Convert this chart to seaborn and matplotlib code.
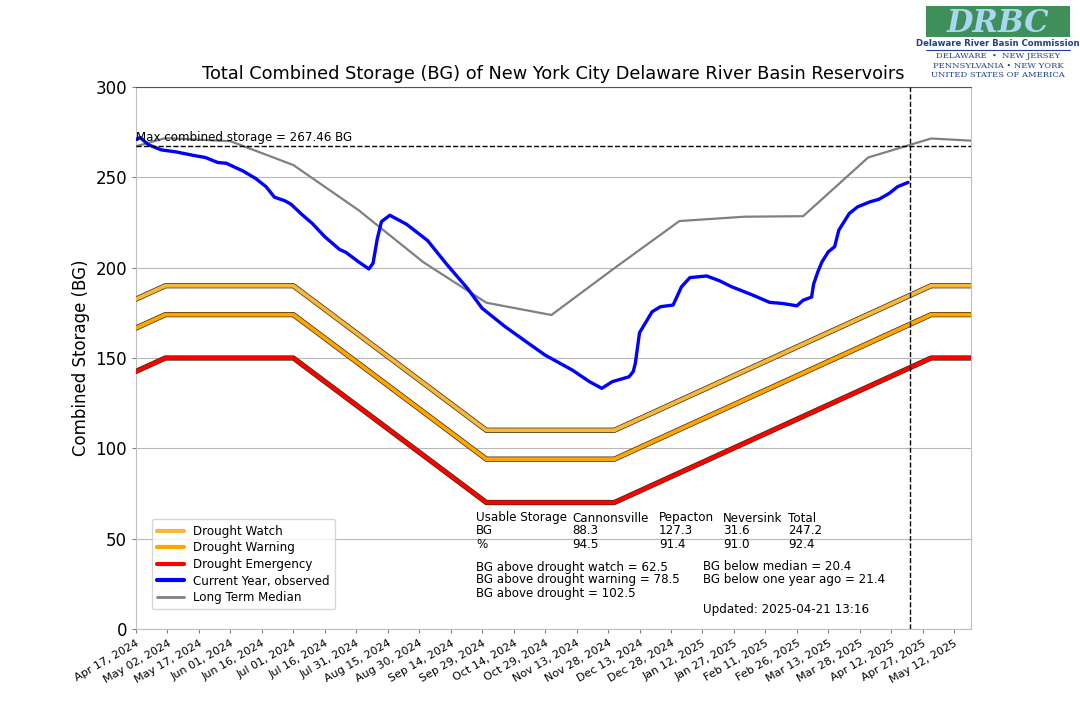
import pandas as pd
import matplotlib
matplotlib.use('Agg')
import matplotlib.pyplot as plt
import matplotlib.dates as mdates
import matplotlib.patheffects as pe
from matplotlib.lines import Line2D
from matplotlib.ticker import FixedLocator
import seaborn as sns

# Drought rule curves (BG)
rule_dates = ['2024-04-17', '2024-05-01', '2024-07-01', '2024-10-01',
              '2024-12-01', '2025-05-01', '2025-05-20']
watch = [182.6, 190, 190, 110, 110, 190, 190]
warning = [166.6, 174, 174, 94, 94, 174, 174]
emergency = [142.6, 150, 150, 70, 70, 150, 150]

# Long term median (BG)
median_dates = ['2024-04-01', '2024-05-01', '2024-06-01', '2024-07-01', '2024-08-01',
                '2024-09-01', '2024-10-01', '2024-11-01', '2024-12-01', '2025-01-01',
                '2025-02-01', '2025-03-01', '2025-04-01', '2025-05-01', '2025-05-20']
median = [262.0, 271.7, 270.0, 256.8, 231.9, 203.0, 180.6, 173.8, 199.7, 225.8,
          228.2, 228.5, 261.0, 271.5, 270.3]

# Current year, observed (BG)
obs_dates = ['2024-04-17', '2024-04-19', '2024-04-23', '2024-04-29', '2024-05-06',
             '2024-05-15', '2024-05-20', '2024-05-26', '2024-05-30', '2024-06-07',
             '2024-06-13', '2024-06-18', '2024-06-22', '2024-06-27', '2024-06-30',
             '2024-07-05', '2024-07-10', '2024-07-16', '2024-07-23', '2024-07-26',
             '2024-08-01', '2024-08-06', '2024-08-08', '2024-08-10', '2024-08-12',
             '2024-08-16', '2024-08-24', '2024-09-03', '2024-09-12', '2024-09-22',
             '2024-09-29', '2024-10-10', '2024-10-20', '2024-10-29', '2024-11-11',
             '2024-11-19', '2024-11-25', '2024-11-30', '2024-12-08', '2024-12-10',
             '2024-12-11', '2024-12-13', '2024-12-19', '2024-12-23', '2024-12-29',
             '2025-01-02', '2025-01-06', '2025-01-14', '2025-01-20', '2025-01-26',
             '2025-02-05', '2025-02-13', '2025-02-19', '2025-02-26', '2025-03-01',
             '2025-03-05', '2025-03-06', '2025-03-08', '2025-03-10', '2025-03-13',
             '2025-03-16', '2025-03-18', '2025-03-23', '2025-03-27', '2025-04-02',
             '2025-04-06', '2025-04-11', '2025-04-15', '2025-04-20']
observed = [271.0, 272.0, 268.0, 265.2, 264.1,
            262.0, 261.0, 258.2, 257.8, 253.5,
            249.4, 244.8, 239.0, 237.0, 235.0,
            229.5, 224.5, 217.1, 210.1, 208.5,
            203.3, 199.3, 202.5, 216.0, 225.5,
            229.0, 224.0, 215.0, 202.0, 188.5,
            177.5, 167.3, 159.0, 151.6, 143.3,
            137.0, 133.2, 136.9, 139.6, 142.5,
            147.0, 164.0, 175.6, 178.4, 179.3,
            189.4, 194.5, 195.4, 192.8, 189.4,
            184.8, 180.8, 180.2, 178.9, 182.0,
            183.7, 191.0, 197.7, 203.3, 208.8,
            211.6, 220.8, 230.0, 233.7, 236.5,
            237.8, 241.1, 244.8, 247.2]

max_storage = 267.46
today = '2025-04-21'
tick_dates = pd.date_range('2024-04-17', '2025-05-12', freq='15D')

table_header = ['Usable Storage', 'Cannonsville', 'Pepacton', 'Neversink', 'Total']
table_bg = ['BG', '88.3', '127.3', '31.6', '247.2']
table_pct = ['%', '94.5', '91.4', '91.0', '92.4']
left_notes = ['BG above drought watch = 62.5', 'BG above drought warning = 78.5',
              'BG above drought = 102.5']
right_notes = ['BG below median = 20.4', 'BG below one year ago = 21.4']
updated = 'Updated: 2025-04-21 13:16'

c_watch = '#F6B73C'
c_warning = '#FFA500'
c_emerg = '#FF0000'

sns.set_style('whitegrid', {'grid.color': '#b8b8b8', 'axes.edgecolor': '#c0c0c0',
                            'xtick.bottom': True, 'ytick.left': True,
                            'xtick.color': '#808080', 'ytick.color': '#808080',
                            'text.color': 'black', 'axes.labelcolor': 'black'})
plt.rcParams['font.family'] = ['DejaVu Sans']

rules = pd.DataFrame({'date': pd.to_datetime(rule_dates), 'watch': watch,
                      'warning': warning, 'emergency': emergency})
med = pd.DataFrame({'date': pd.to_datetime(median_dates), 'value': median})
obs = pd.DataFrame({'date': pd.to_datetime(obs_dates), 'value': observed})

fig = plt.figure(figsize=(10.8, 7.2), dpi=100)
ax = fig.add_axes([136 / 1080, 91 / 720, 835 / 1080, 542 / 720])

# Drought levels get a thin dark outline
edge = [pe.Stroke(linewidth=3.8, foreground='#3a2a10'), pe.Normal()]
for col, c in [('watch', c_watch), ('warning', c_warning), ('emergency', c_emerg)]:
    sns.lineplot(data=rules, x='date', y=col, color=c, linewidth=2.8, ax=ax,
                 path_effects=edge, zorder=3)
sns.lineplot(data=med, x='date', y='value', color='gray', linewidth=1.6, ax=ax, zorder=4)
sns.lineplot(data=obs, x='date', y='value', color='blue', linewidth=2.4, ax=ax, zorder=5)

ax.axhline(max_storage, color='black', linestyle='--', linewidth=1.0, zorder=6)
ax.axvline(pd.Timestamp(today), color='black', linestyle='--', linewidth=1.0, zorder=6)
ax.text(pd.Timestamp('2024-04-17'), max_storage + 1.2, 'Max combined storage = 267.46 BG',
        fontsize=8.6, ha='left', va='bottom', color='black', zorder=7)

ax.set_xlim(pd.Timestamp('2024-04-17'), pd.Timestamp('2025-05-20'))
ax.set_ylim(0, 300)
ax.xaxis.set_major_locator(FixedLocator(mdates.date2num(tick_dates)))
ax.xaxis.set_major_formatter(mdates.DateFormatter('%b %d, %Y'))
ax.grid(axis='x', visible=False)
ax.tick_params(axis='x', labelsize=8, length=3, labelcolor='black', rotation=30)
ax.tick_params(axis='y', labelsize=12, length=3, labelcolor='black')
for lbl in ax.get_xticklabels():
    lbl.set_ha('right')
    lbl.set_rotation_mode('anchor')
ax.set_xlabel('')
ax.set_ylabel('Combined Storage (BG)', fontsize=12, color='black')
ax.set_title('Total Combined Storage (BG) of New York City Delaware River Basin Reservoirs',
             fontsize=12.8, pad=6, color='black')
ax.spines['top'].set_color('#555555')

handles = [Line2D([], [], color=c_watch, lw=3), Line2D([], [], color=c_warning, lw=3),
           Line2D([], [], color=c_emerg, lw=3), Line2D([], [], color='blue', lw=3),
           Line2D([], [], color='gray', lw=2)]
labels = ['Drought Watch', 'Drought Warning', 'Drought Emergency',
          'Current Year, observed', 'Long Term Median']
leg = ax.legend(handles, labels, loc='lower left', bbox_to_anchor=(0.012, 0.025),
                fontsize=8.6, frameon=True, handlelength=2.2, labelspacing=0.3,
                borderpad=0.45)
for t in leg.get_texts():
    t.set_color('black')

# Summary text block
col_x = [476, 572, 659, 723, 788]
for row, y in [(table_header, 518), (table_bg, 531), (table_pct, 544)]:
    for txt, x in zip(row, col_x):
        fig.text(x / 1080, 1 - y / 720, txt, fontsize=8.6, va='center', ha='left',
                 color='black')
for i, txt in enumerate(left_notes):
    fig.text(476 / 1080, 1 - (567 + 13 * i) / 720, txt, fontsize=8.6, va='center',
             color='black')
for i, txt in enumerate(right_notes):
    fig.text(703 / 1080, 1 - (567 + 13 * i) / 720, txt, fontsize=8.6, va='center',
             color='black')
fig.text(703 / 1080, 1 - 610 / 720, updated, fontsize=8.6, va='center', color='black')

# DRBC logo (approximation)
logo = fig.add_axes([926 / 1080, 1 - 37 / 720, 144 / 1080, 31 / 720])
logo.set_facecolor('#3f8f5b')
logo.set_xticks([])
logo.set_yticks([])
for s in logo.spines.values():
    s.set_visible(False)
logo.text(0.5, 0.45, 'DRBC', color='#a9d7f2', fontsize=22, fontweight='bold',
          fontstyle='italic', family='DejaVu Serif', ha='center', va='center')
fig.text(998 / 1080, 1 - 44 / 720, 'Delaware River Basin Commission', color='#1f3f8f',
         fontsize=6.1, fontweight='bold', ha='center', va='center')
fig.add_artist(Line2D([926 / 1080, 1070 / 1080], [1 - 50 / 720, 1 - 50 / 720],
                      color='#1f3f8f', lw=0.8))
for i, txt in enumerate(['DELAWARE  \u2022  NEW JERSEY', 'PENNSYLVANIA \u2022 NEW YORK',
                         'UNITED STATES OF AMERICA']):
    fig.text(998 / 1080, 1 - (56 + 9.5 * i) / 720, txt, color='#1f3f8f', fontsize=6,
             family='DejaVu Serif', ha='center', va='center')

fig.savefig('out.png', dpi=100)
